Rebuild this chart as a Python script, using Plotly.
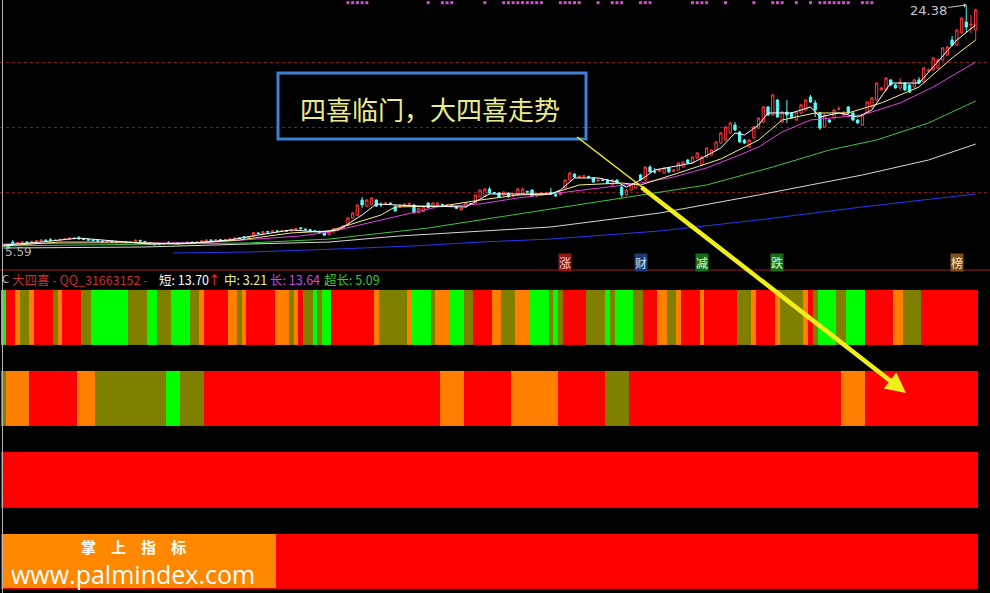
import plotly.graph_objects as go

W, H = 990, 593

# ---------------- price data (one entry per bar, bar index 0..206) ----------------
open_ = [
    5.85, 5.92, 6.15, 6.05, 6.08, 6.15, 6.12, 6.18, 6.22, 6.30,
    6.32, 6.28, 6.30, 6.34, 6.36, 6.45, 6.46, 6.40, 6.34, 6.30,
    6.25, 6.22, 6.18, 6.20, 6.15, 6.12, 6.15, 6.12, 6.18, 6.28,
    6.20, 6.12, 5.90, 6.00, 5.98, 6.12, 6.06, 6.10, 6.04, 6.10,
    6.14, 6.10, 6.14, 6.22, 6.30, 6.28, 6.32, 6.30, 6.35, 6.40,
    6.46, 6.55, 6.48, 6.60, 6.85, 6.82, 6.95, 6.92, 7.00, 6.98,
    7.02, 7.00, 7.10, 7.25, 7.15, 7.10, 7.02, 6.98, 6.85, 6.70,
    6.92, 7.10, 7.18, 7.46, 8.00, 8.23, 9.38, 8.90, 9.05, 9.38,
    9.05, 9.10, 9.15, 8.85, 8.85, 8.95, 9.05, 9.00, 8.40, 8.50,
    9.15, 8.85, 8.95, 9.05, 9.00, 9.00, 8.85, 8.62, 8.85, 9.10,
    9.15, 9.62, 9.70, 10.23, 9.95, 9.92, 9.77, 9.92, 9.70, 9.77,
    9.92, 10.05, 10.15, 9.70, 9.77, 9.90, 9.98, 9.80, 9.80, 10.31,
    10.92, 11.38, 11.15, 11.20, 11.20, 11.08, 10.85, 10.92, 10.92, 10.54,
    10.92, 10.38, 9.77, 10.15, 10.31, 11.31, 10.92, 11.92, 11.60, 11.60,
    11.46, 11.85, 11.60, 11.69, 11.92, 12.46, 12.23, 12.62, 12.08, 12.69,
    12.85, 13.23, 13.77, 14.00, 14.54, 15.15, 14.62, 14.00, 13.46, 14.15,
    14.92, 15.38, 16.54, 15.92, 17.08, 15.38, 16.15, 16.08, 15.54, 16.08,
    16.31, 17.31, 16.85, 16.08, 15.00, 15.54, 15.69, 16.38, 15.92, 16.54,
    16.08, 15.54, 15.15, 16.08, 16.54, 17.08, 17.85, 17.85, 18.62, 18.23,
    18.00, 18.38, 18.23, 18.08, 18.62, 18.46, 19.30, 19.38, 19.54, 20.15,
    20.54, 21.69, 21.31, 22.23, 23.08, 22.85, 22.46]

high_ = [
    5.98, 5.95, 6.30, 6.15, 6.20, 6.22, 6.25, 6.30, 6.38, 6.35,
    6.45, 6.36, 6.42, 6.45, 6.50, 6.50, 6.62, 6.44, 6.38, 6.34,
    6.30, 6.26, 6.25, 6.24, 6.20, 6.20, 6.20, 6.22, 6.34, 6.32,
    6.24, 6.15, 6.04, 6.05, 6.08, 6.22, 6.15, 6.14, 6.14, 6.18,
    6.18, 6.20, 6.28, 6.34, 6.35, 6.36, 6.38, 6.40, 6.44, 6.50,
    6.52, 6.62, 6.60, 6.92, 6.92, 7.00, 7.00, 7.05, 7.06, 7.08,
    7.08, 7.16, 7.24, 7.30, 7.20, 7.14, 7.06, 7.02, 6.88, 6.96,
    7.22, 7.22, 7.45, 8.05, 8.45, 9.05, 9.62, 9.45, 9.60, 9.45,
    9.20, 9.20, 9.20, 9.00, 9.05, 9.15, 9.20, 9.05, 8.80, 8.90,
    9.20, 9.20, 9.22, 9.10, 9.08, 9.05, 8.90, 8.80, 9.20, 9.15,
    9.82, 10.20, 10.30, 10.40, 10.00, 10.00, 10.05, 9.98, 9.80, 10.30,
    10.35, 10.10, 10.20, 9.80, 9.98, 10.00, 10.31, 9.85, 10.00, 11.00,
    11.55, 11.45, 11.30, 11.30, 11.25, 11.12, 11.00, 11.00, 10.98, 10.98,
    10.98, 10.45, 10.20, 10.60, 10.75, 11.40, 12.00, 12.08, 11.85, 11.80,
    11.92, 11.92, 11.75, 12.30, 12.38, 12.55, 12.75, 13.08, 12.75, 13.46,
    13.30, 13.92, 14.62, 15.08, 15.40, 15.38, 14.70, 14.08, 14.08, 15.08,
    15.77, 16.62, 16.62, 17.54, 17.15, 16.23, 17.08, 16.15, 16.23, 16.77,
    17.15, 17.46, 17.08, 16.15, 16.00, 15.60, 16.38, 16.60, 16.23, 16.62,
    16.15, 15.60, 16.00, 17.00, 17.31, 18.46, 18.10, 18.85, 18.70, 18.30,
    18.77, 18.46, 18.30, 18.70, 18.85, 19.62, 19.50, 20.38, 20.23, 21.15,
    21.23, 22.00, 22.54, 23.46, 24.38, 23.62, 24.10]

low_ = [
    5.78, 5.59, 5.90, 6.00, 6.02, 6.05, 6.08, 6.12, 6.18, 6.20,
    6.22, 6.22, 6.25, 6.30, 6.32, 6.36, 6.35, 6.30, 6.25, 6.20,
    6.15, 6.12, 6.12, 6.10, 6.08, 6.08, 6.06, 6.08, 6.15, 6.18,
    6.08, 5.98, 5.86, 5.90, 5.94, 6.02, 6.02, 5.98, 6.00, 6.06,
    6.06, 6.06, 6.10, 6.18, 6.24, 6.24, 6.26, 6.26, 6.30, 6.36,
    6.38, 6.42, 6.44, 6.56, 6.74, 6.78, 6.86, 6.88, 6.92, 6.94,
    6.95, 6.96, 7.05, 7.12, 7.04, 6.96, 6.92, 6.88, 6.62, 6.66,
    6.90, 7.05, 7.12, 7.40, 7.95, 8.15, 8.77, 8.85, 9.00, 8.85,
    8.85, 9.05, 9.05, 8.45, 8.80, 8.90, 9.00, 8.35, 8.35, 8.45,
    8.75, 8.80, 8.90, 8.95, 8.95, 8.88, 8.70, 8.58, 8.80, 9.00,
    9.10, 9.58, 9.65, 9.88, 9.85, 9.58, 9.72, 9.58, 9.62, 9.72,
    9.88, 9.95, 9.65, 9.62, 9.72, 9.85, 9.77, 9.62, 9.75, 10.25,
    10.85, 11.10, 11.08, 11.10, 11.05, 10.72, 10.80, 10.85, 10.65, 10.50,
    10.65, 9.55, 9.70, 10.10, 10.25, 10.88, 10.85, 11.50, 11.40, 11.55,
    11.40, 11.50, 11.55, 11.62, 11.88, 12.18, 12.18, 12.55, 12.00, 12.62,
    12.80, 13.15, 13.70, 13.92, 14.46, 14.70, 13.77, 13.70, 13.40, 14.08,
    14.85, 15.30, 15.85, 15.85, 15.70, 15.30, 15.31, 15.62, 15.46, 16.00,
    16.25, 16.85, 15.77, 14.77, 14.92, 15.30, 15.62, 16.30, 15.85, 16.00,
    15.46, 15.25, 15.08, 16.00, 16.46, 17.00, 17.80, 17.77, 18.15, 17.95,
    17.85, 17.77, 17.62, 18.00, 18.30, 18.38, 19.25, 19.30, 19.46, 20.08,
    20.46, 21.20, 21.23, 22.15, 22.23, 22.23, 21.69]

close_ = [
    5.92, 5.80, 6.05, 6.10, 6.15, 6.12, 6.20, 6.25, 6.30, 6.26,
    6.28, 6.30, 6.35, 6.38, 6.46, 6.42, 6.40, 6.35, 6.30, 6.26,
    6.22, 6.18, 6.20, 6.15, 6.12, 6.16, 6.12, 6.18, 6.30, 6.22,
    6.12, 6.02, 6.00, 5.96, 6.02, 6.06, 6.10, 6.04, 6.10, 6.14,
    6.10, 6.15, 6.24, 6.30, 6.28, 6.32, 6.30, 6.35, 6.40, 6.45,
    6.42, 6.48, 6.55, 6.88, 6.80, 6.95, 6.92, 7.00, 6.98, 7.02,
    7.00, 7.12, 7.18, 7.18, 7.10, 7.02, 6.98, 6.92, 6.68, 6.92,
    7.18, 7.15, 7.40, 8.00, 8.38, 9.00, 9.00, 9.38, 9.54, 8.92,
    9.00, 9.15, 9.12, 8.55, 8.95, 9.05, 9.10, 8.40, 8.75, 8.85,
    8.80, 9.15, 9.15, 9.00, 9.02, 8.92, 8.75, 8.77, 9.15, 9.05,
    9.77, 10.15, 10.23, 9.92, 9.92, 9.62, 10.00, 9.62, 9.75, 10.23,
    10.23, 10.00, 9.70, 9.75, 9.92, 9.95, 9.85, 9.70, 9.95, 10.92,
    11.46, 11.15, 11.20, 11.25, 11.10, 10.77, 10.92, 10.90, 10.69, 10.92,
    10.70, 9.77, 10.15, 10.54, 10.69, 10.92, 11.92, 11.54, 11.54, 11.70,
    11.85, 11.54, 11.69, 12.23, 12.31, 12.23, 12.69, 13.00, 12.69, 13.38,
    13.23, 13.85, 14.54, 15.00, 15.31, 14.77, 13.85, 13.77, 14.00, 15.00,
    15.69, 16.54, 15.92, 17.46, 15.77, 16.15, 15.92, 15.69, 16.15, 16.69,
    17.08, 16.92, 16.31, 14.92, 15.92, 15.38, 16.31, 16.40, 16.15, 16.08,
    15.54, 15.31, 15.92, 16.92, 17.23, 18.38, 18.00, 18.77, 18.23, 18.00,
    18.46, 17.85, 17.69, 18.62, 18.38, 19.54, 19.40, 20.31, 20.15, 21.08,
    21.15, 21.31, 22.46, 23.38, 22.69, 22.90, 24.00]

bars = list(range(len(close_)))

# ---------------- moving average lines ----------------
ma5_x = [0, 8, 16, 23, 31, 40, 48, 54, 61, 67, 71, 76, 79, 88, 98, 103, 116, 118, 121, 126,
         130, 132, 135, 138, 146, 152, 155, 157, 160, 162, 167, 171, 173, 177, 181, 184, 188,
         194, 198, 202, 206]
ma5_y = [5.92, 6.15, 6.46, 6.23, 6.00, 6.08, 6.31, 6.69, 7.08, 6.92, 7.08, 8.23, 9.08, 8.92,
         8.85, 9.85, 9.85, 10.15, 11.08, 11.08, 10.77, 10.38, 10.92, 11.69, 12.23, 13.38, 14.54,
         14.38, 15.15, 16.08, 16.08, 16.54, 15.77, 16.08, 15.77, 16.31, 18.38, 18.38, 20.00,
         21.69, 22.85]
ma10_x = [0, 12, 25, 37, 50, 61, 69, 80, 83, 93, 101, 109, 116, 122, 131, 135, 143, 152, 160,
          165, 172, 179, 186, 194, 201, 206]
ma10_y = [5.85, 6.15, 6.15, 6.00, 6.31, 6.85, 7.00, 8.23, 8.85, 8.92, 9.38, 9.77, 9.85, 10.54,
          10.69, 10.54, 11.46, 12.54, 14.00, 15.54, 16.08, 16.08, 16.85, 18.08, 20.31, 21.69]
ma20_x = [0, 20, 42, 52, 63, 69, 82, 92, 101, 109, 116, 128, 135, 142, 149, 156, 160, 165, 171,
          182, 190, 197, 206]
ma20_y = [6.00, 6.08, 6.08, 6.31, 6.62, 6.92, 8.00, 8.85, 9.08, 9.54, 9.85, 10.38, 10.69, 11.15,
          11.85, 12.85, 13.46, 14.62, 15.54, 15.92, 16.85, 18.08, 20.00]
ma60_x = [0, 20, 42, 52, 69, 90, 101, 116, 135, 149, 163, 175, 185, 196, 206]
ma60_y = [5.85, 5.92, 6.00, 6.08, 6.38, 7.23, 7.85, 8.69, 9.77, 10.54, 11.92, 13.23, 14.00,
          15.31, 17.00]
ma120_x = [0, 30, 52, 69, 84, 97, 116, 139, 160, 182, 196, 206]
ma120_y = [5.69, 5.77, 6.00, 6.15, 6.62, 6.92, 7.31, 8.38, 9.77, 11.31, 12.46, 13.69]
ma250_x = [36, 52, 71, 87, 101, 116, 139, 160, 182, 206]
ma250_y = [5.31, 5.38, 5.62, 5.85, 6.15, 6.38, 7.00, 7.85, 8.85, 9.85]

# signal marks along the top edge (bar indices)
signal_bars = [73, 74, 75, 76, 77, 90, 93, 94, 95, 102, 106, 107, 108, 109, 110, 111, 112, 113,
               114, 118, 119, 120, 121, 122, 126, 129, 130, 131, 135, 136, 137, 146, 147, 148,
               149, 153, 159, 163, 164, 165, 168, 171, 173, 174, 175, 176, 177, 178, 179, 182,
               183, 184]

# event tags at the bottom of the price panel
event_bars = [119, 135, 148, 164, 202]
event_labels = ["涨", "财", "减", "跌", "榜"]

price_high_label = "24.38"
price_low_label = "5.59"

# ---------------- 大四喜 colour strips (run-length: colour, number of bars) ----------------
# R = red, O = orange, K = olive, G = green
row1_colors = ["G", "R", "O", "K", "O", "R", "K", "O", "R", "K", "G", "K", "G", "K", "G", "K",
               "O", "R", "O", "K", "O", "R", "O", "K", "O", "R", "K", "G", "K", "G", "R", "O",
               "K", "O", "G", "K", "O", "G", "K", "R", "O", "K", "O", "G", "K", "G", "K", "R",
               "K", "G", "K", "G", "K", "R", "O", "K", "O", "R", "O", "R", "K", "O", "R", "O",
               "K", "O", "R", "K", "G", "K", "G", "R", "O", "K", "R"]
row1_lens = [1, 2, 1, 2, 1, 4, 1, 1, 4, 2, 8, 4, 2, 3, 4, 2,
             1, 5, 2, 1, 1, 6, 3, 1, 1, 1, 2, 1, 1, 2, 9, 1,
             6, 1, 4, 1, 3, 3, 2, 4, 2, 3, 3, 4, 1, 1, 1, 5,
             4, 1, 1, 4, 2, 3, 2, 2, 1, 4, 1, 7, 3, 1, 4, 1,
             5, 1, 1, 1, 4, 2, 4, 6, 2, 4, 12]
row2_colors = ["K", "O", "R", "O", "K", "G", "K", "R", "O", "R", "O", "R", "K", "R", "O", "R"]
row2_lens = [1, 5, 10, 4, 15, 3, 5, 50, 5, 10, 10, 10, 5, 45, 5, 24]
row3_colors = ["R"]
row3_lens = [207]
row4_colors = ["R"]
row4_lens = [207]

legend_items = [
    ("大四喜 - QQ_31663152 -", "#c83030"),
    ("短: 13.70", "#ffffff"),
    ("↑", "#ff3030"),
    ("中: 3.21", "#f0f0a0"),
    ("长: 13.64", "#c848e8"),
    ("超长: 5.09", "#38c838"),
]

# ---------------- styles / layout helpers ----------------
CJK = "Noto Sans CJK SC, Noto Sans, DejaVu Sans"
code_of = {"R": 0, "O": 1, "K": 2, "G": 3}
strip_scale = [[0, "#ff0000"], [0.1667, "#ff0000"], [0.1667, "#ff8000"], [0.5, "#ff8000"],
               [0.5, "#808000"], [0.8333, "#808000"], [0.8333, "#00ff00"], [1, "#00ff00"]]


def expand(colors, lens):
    out = []
    for c, n in zip(colors, lens):
        out += [code_of[c]] * n
    return out


def px(x):
    return x / W


def py(y):
    return 1 - y / H


fig = go.Figure()

fig.add_trace(go.Candlestick(
    x=bars, open=open_, high=high_, low=low_, close=close_,
    increasing=dict(line=dict(color="#ff3a3a", width=1), fillcolor="#000000"),
    decreasing=dict(line=dict(color="#54fcfc", width=1), fillcolor="#54fcfc"),
    whiskerwidth=0, hoverinfo="skip", xaxis="x", yaxis="y"))

for xs, ys, col in [(ma250_x, ma250_y, "#2838f0"), (ma120_x, ma120_y, "#d8d8d8"),
                    (ma60_x, ma60_y, "#3cc83c"), (ma20_x, ma20_y, "#e040e0"),
                    (ma10_x, ma10_y, "#f4f08c"), (ma5_x, ma5_y, "#ffffff")]:
    fig.add_trace(go.Scatter(x=xs, y=ys, mode="lines", line=dict(color=col, width=1),
                             hoverinfo="skip", xaxis="x", yaxis="y"))

fig.add_trace(go.Scatter(x=signal_bars, y=[0.99] * len(signal_bars), mode="markers",
                         marker=dict(symbol="square", size=3, color="#d050d0"),
                         hoverinfo="skip", xaxis="x", yaxis="y3"))

z = [expand(row4_colors, row4_lens), expand(row3_colors, row3_lens),
     expand(row2_colors, row2_lens), expand(row1_colors, row1_lens)]
fig.add_trace(go.Heatmap(x=bars, y=[1, 2, 3, 4], z=z, zmin=0, zmax=3, colorscale=strip_scale,
                         showscale=False, ygap=26, hoverinfo="skip", xaxis="x2", yaxis="y2"))

xr = [-0.712, 209.03]
top_dom = [py(268), 1]
bot_dom = [0, py(270)]

shapes = [
    dict(type="line", xref="paper", yref="paper", x0=0, x1=1, y0=py(270), y1=py(270),
         line=dict(color="#a01c1c", width=1)),
    dict(type="line", xref="paper", yref="paper", x0=px(2.5), x1=px(2.5), y0=0, y1=1,
         line=dict(color="#b4b4b4", width=1)),
    dict(type="rect", xref="paper", yref="paper", x0=px(278), x1=px(586), y0=py(139), y1=py(73),
         line=dict(color="#3c80d8", width=3), fillcolor="rgba(0,0,0,0)"),
    dict(type="line", xref="paper", yref="paper", x0=px(577), y0=py(137), x1=px(642), y1=py(187),
         line=dict(color="#f2ee1c", width=1.5)),
    dict(type="rect", xref="paper", yref="paper", x0=px(3), x1=px(276), y0=py(588), y1=py(534),
         line=dict(width=0), fillcolor="#ff8800"),
]

C = dict(xanchor="center", yanchor="middle")
ann = [
    dict(xref="paper", yref="paper", x=px(430), y=py(108), text="四喜临门，大四喜走势",
         showarrow=False, font=dict(family=CJK, size=26, color="#ecec88"), **C),
    dict(xref="paper", yref="paper", x=px(906), y=py(393), ax=-266, ay=-207, text="",
         showarrow=True, arrowhead=2, arrowwidth=4.5, arrowsize=0.9, arrowcolor="#f2ee1c"),
    dict(xref="x", yref="y", x=204, y=24.38, text=price_high_label, showarrow=True,
         ax=-38, ay=5, arrowhead=1, arrowsize=0.8, arrowwidth=1, arrowcolor="#c8c8c8",
         font=dict(family="DejaVu Sans", size=13, color="#c8c8c8")),
    dict(xref="paper", yref="y", x=px(3), y=5.59, yshift=-3, xanchor="left", yanchor="middle",
         text=price_low_label, showarrow=False,
         font=dict(family="DejaVu Sans", size=12, color="#b0b0b0")),
    dict(xref="paper", yref="paper", x=0, y=py(279), xanchor="left", yanchor="middle",
         text="C", showarrow=False, font=dict(family="DejaVu Sans", size=10, color="#c8c8c8")),
    dict(xref="paper", yref="paper", x=px(133), y=py(546), text="掌\u2003上\u2003指\u2003标",
         showarrow=False, font=dict(family=CJK, size=15, color="#ffffff", weight="bold"), **C),
    dict(xref="paper", yref="paper", x=px(133), y=py(574), text="www.palmindex.com",
         showarrow=False, font=dict(family="Open Sans, DejaVu Sans", size=25, color="#ffffff"),
         **C),
]

legend_x = [10, 157, 206, 222, 268, 322]
for (txt, col), lx in zip(legend_items, legend_x):
    ann.append(dict(xref="paper", yref="paper", x=px(lx), y=py(279), xanchor="left",
                    yanchor="middle", text=txt, showarrow=False,
                    font=dict(family=CJK, size=12.5, color=col)))

tag_style = {"涨": ("#8c1818", "#ffc8c8"), "财": ("#1c3c78", "#c8e4ff"),
             "减": ("#1c6c1c", "#c8ffc8"), "跌": ("#1c6c1c", "#c8ffc8"),
             "榜": ("#7c5020", "#ffe4b8")}
for b, lab in zip(event_bars, event_labels):
    bg, fg = tag_style[lab]
    ann.append(dict(xref="x", yref="paper", x=b, y=py(262), text=lab, showarrow=False,
                    bgcolor=bg, borderpad=0, font=dict(family=CJK, size=12, color=fg), **C))

fig.update_layout(
    width=W, height=H, margin=dict(l=0, r=0, t=0, b=0),
    paper_bgcolor="#000000", plot_bgcolor="#000000", showlegend=False,
    xaxis=dict(domain=[0, 1], range=xr, visible=False, rangeslider=dict(visible=False),
               anchor="y"),
    yaxis=dict(domain=top_dom, range=[4.154, 24.769], showgrid=True, tickvals=[10, 15, 20],
               gridcolor="#7c1c1c", griddash="dot", gridwidth=1, showticklabels=False,
               zeroline=False, showline=False, anchor="x"),
    yaxis3=dict(domain=top_dom, range=[0, 1], overlaying="y", visible=False, anchor="x"),
    xaxis2=dict(domain=[0, 1], range=xr, visible=False, anchor="y2"),
    yaxis2=dict(domain=bot_dom, range=[0.606, 4.585], visible=False, anchor="x2"),
    shapes=shapes, annotations=ann,
)

fig.write_html("out.html", config={"displayModeBar": False},
               post_script="document.body.style.margin='0px';")
